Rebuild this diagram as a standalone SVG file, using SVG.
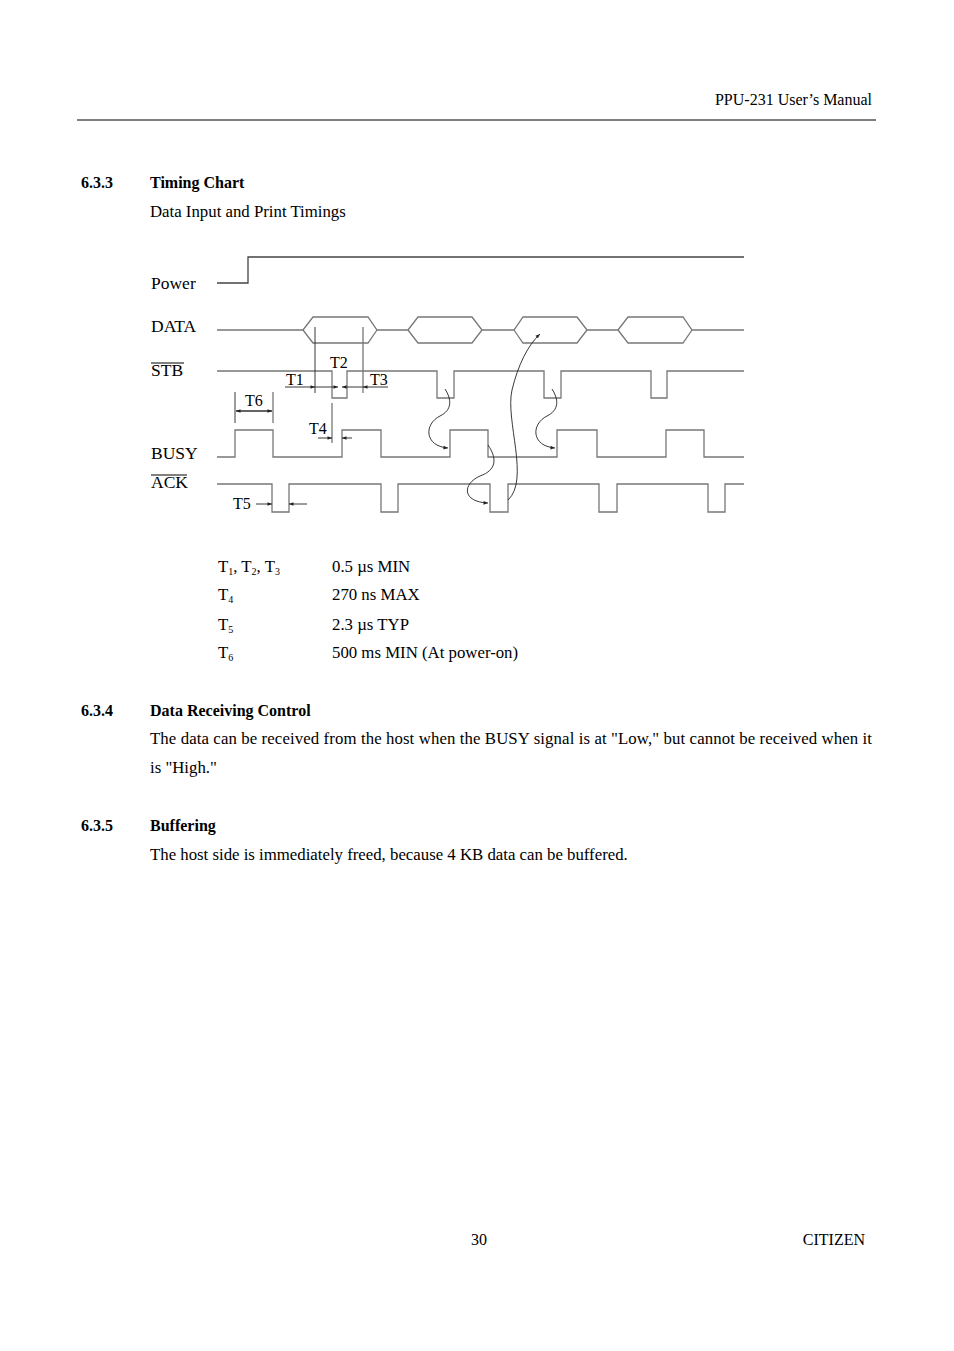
<svg xmlns="http://www.w3.org/2000/svg" width="954" height="1351" viewBox="0 0 954 1351">
<defs>
<marker id="a" viewBox="0 0 10 10" refX="10" refY="5" markerWidth="7" markerHeight="5" orient="auto"><path d="M0,1L10,5L0,9z" fill="#222"/></marker>
</defs>
<style>
text{font-family:"Liberation Serif",serif;font-size:16px;fill:#000}
.b{font-weight:bold}
.bd{font-size:16.8px}
.s{fill:none;stroke:#777;stroke-width:1.3}
.k{fill:none;stroke:#222;stroke-width:0.9}
.lb{font-size:16px}
.sg{font-size:17.5px}
.sm{font-size:10px}
</style>
<rect width="954" height="1351" fill="#fff"/>
<text x="872" y="105" text-anchor="end">PPU-231 User’s Manual</text>
<line x1="77" y1="120" x2="876" y2="120" stroke="#000"/>
<text x="81" y="188" class="b">6.3.3</text><text x="150" y="188" class="b">Timing Chart</text>
<text x="150" y="217" class="bd">Data Input and Print Timings</text>
<g id="labels">
<text x="151" y="289" class="sg">Power</text>
<text x="151" y="332" class="sg">DATA</text>
<text x="151" y="376" class="sg">STB</text><line x1="151" y1="363" x2="184" y2="363" stroke="#000"/>
<text x="151" y="459" class="sg">BUSY</text>
<text x="151" y="488" class="sg">ACK</text><line x1="151" y1="475" x2="187" y2="475" stroke="#000"/>
</g>
<g id="signals">
<path class="s" style="stroke:#444" d="M217,283H248V257H744"/>
<path class="s" d="M217,330H303L313,317H368L377,330H408L418,317H472L482,330H514L523,317H577L587,330H618L628,317H683L692,330H744M303,330L313,343H368L377,330M408,330L418,343H472L482,330M514,330L523,343H577L587,330M618,330L628,343H683L692,330"/>
<path class="s" d="M217,371H332V398H347V371H437V398H454V371H544V398H561V371H651V398H667V371H744"/>
<path class="s" d="M217,457H235V430H273V457H342V430H381V457H450V430H488V457H557V430H597V457H666V430H704V457H744"/>
<path class="s" d="M217,484H272V512H289V484H381V512H398V484H490V512H508V484H599V512H617V484H708V512H725V484H744"/>
</g>
<g id="timings">
<line class="k" x1="315" y1="327" x2="315" y2="393"/>
<line class="s" x1="363" y1="327" x2="363" y2="393"/>
<line class="k" x1="285" y1="387" x2="315" y2="387" marker-end="url(#a)"/>
<line class="k" x1="315" y1="387" x2="338" y2="387" marker-end="url(#a)"/>
<line class="k" x1="363" y1="387" x2="342" y2="387" marker-end="url(#a)"/>
<line class="k" x1="388" y1="387" x2="363" y2="387" marker-end="url(#a)"/>
<text x="330" y="368" class="lb">T2</text>
<text x="286" y="385" class="lb">T1</text>
<text x="370" y="385" class="lb">T3</text>
<line class="k" x1="235" y1="392" x2="235" y2="423"/>
<line class="s" x1="273" y1="392" x2="273" y2="423"/>
<line class="k" x1="236" y1="411" x2="272" y2="411" marker-end="url(#a)"/>
<line class="k" x1="272" y1="411" x2="236" y2="411" marker-end="url(#a)"/>
<text x="245" y="406" class="lb">T6</text>
<line class="s" x1="332" y1="403" x2="332" y2="443"/>
<line class="k" x1="318" y1="438" x2="332" y2="438" marker-end="url(#a)"/>
<line class="k" x1="352" y1="438" x2="342" y2="438" marker-end="url(#a)"/>
<text x="309" y="434" class="lb">T4</text>
<line class="k" x1="256" y1="504" x2="272" y2="504" marker-end="url(#a)"/>
<line class="k" x1="307" y1="504" x2="289" y2="504" marker-end="url(#a)"/>
<text x="233" y="509" class="lb">T5</text>
</g>
<g id="connectors">
<path class="k" d="M445,389C452,400 452,410 440,416C424,424 424,446 448,448" marker-end="url(#a)"/>
<path class="k" d="M552,389C559,400 559,410 547,416C531,424 531,446 555,448" marker-end="url(#a)"/>
<path class="k" d="M488,445C497,458 497,470 480,476C462,484 462,502 488,503" marker-end="url(#a)"/>
<path class="k" d="M508,500C530,480 505,420 512,390C518,365 528,345 540,334" marker-end="url(#a)"/>
</g>
<g id="table">
<text x="218" y="572" class="bd">T<tspan class="sm" dy="3">1</tspan><tspan dy="-3">, T</tspan><tspan class="sm" dy="3">2</tspan><tspan dy="-3">, T</tspan><tspan class="sm" dy="3">3</tspan></text>
<text x="332" y="572" class="bd">0.5 µs MIN</text>
<text x="218" y="600" class="bd">T<tspan class="sm" dy="3">4</tspan></text><text x="332" y="600" class="bd">270 ns MAX</text>
<text x="218" y="630" class="bd">T<tspan class="sm" dy="3">5</tspan></text><text x="332" y="630" class="bd">2.3 µs TYP</text>
<text x="218" y="658" class="bd">T<tspan class="sm" dy="3">6</tspan></text><text x="332" y="658" class="bd">500 ms MIN (At power-on)</text>
</g>
<text x="81" y="716" class="b">6.3.4</text><text x="150" y="716" class="b">Data Receiving Control</text>
<text x="150" y="744" class="bd" textLength="722">The data can be received from the host when the BUSY signal is at "Low," but cannot be received when it</text>
<text x="150" y="773" class="bd">is "High."</text>
<text x="81" y="831" class="b">6.3.5</text><text x="150" y="831" class="b">Buffering</text>
<text x="150" y="860" class="bd">The host side is immediately freed, because 4 KB data can be buffered.</text>
<text x="471" y="1245">30</text>
<text x="865" y="1245" text-anchor="end">CITIZEN</text>
</svg>
